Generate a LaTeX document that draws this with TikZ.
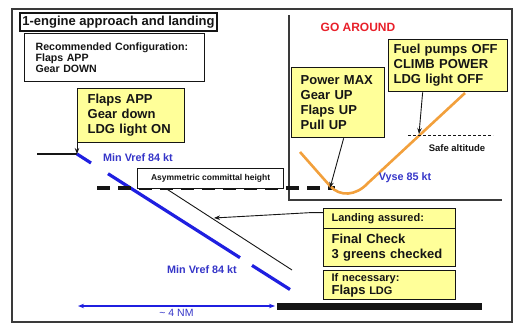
\documentclass[tikz,border=0pt]{standalone}
\usepackage{fontspec}
\setmainfont{Liberation Sans}
\usetikzlibrary{arrows.meta,calc}
\definecolor{ACFrame}{HTML}{3A3A3A}
\definecolor{ACNote}{HTML}{FFFF99}
\definecolor{ACBlue}{HTML}{1F1FE0}
\definecolor{ACBlueText}{HTML}{3535C8}
\definecolor{ACOrange}{HTML}{F2A03C}
\definecolor{ACRed}{HTML}{E8202A}
\definecolor{ACInk}{HTML}{151515}
\tikzset{
  pointer/.style={-{Stealth[length=6pt,width=4.5pt]},ACInk,line width=0.9pt},
  spanarrow/.style={{Stealth[length=6pt,width=4.5pt]}-{Stealth[length=6pt,width=4.5pt]},ACBlue,line width=1.2pt},
  glide/.style={ACBlue,line width=3.2pt},
  climbpath/.style={ACOrange,line width=2.6pt,line join=round},
  guide/.style={ACInk,line width=0.9pt},
  frameline/.style={ACFrame,line width=1.4pt},
  committal/.style={ACInk,line width=3.5pt,dash pattern=on 13pt off 8pt},
  safeline/.style={ACInk,line width=0.8pt,dash pattern=on 3pt off 2pt},
  runway/.style={ACInk,line width=7pt},
  memo/.style={draw=ACInk,line width=1.3pt,fill=ACNote,text=ACInk,align=left,
               anchor=north west,inner ysep=2pt,
               font=\fontsize{13}{15}\selectfont\bfseries},
  memosmall/.style={memo,font=\fontsize{11}{13}\selectfont\bfseries},
  plainbox/.style={draw=ACInk,line width=1.2pt,fill=white,text=ACInk},
  speed/.style={text=ACBlueText,font=\fontsize{10.8}{13}\selectfont\bfseries},
}

\begin{document}
\begin{tikzpicture}[x=1pt,y=-1pt]
    \useasboundingbox (0,0) rectangle (519,324);
    \draw[frameline] (12,9) rectangle (512,322);

    \node[plainbox,line width=1.4pt,inner sep=1pt,minimum width=197,minimum height=18,
          font=\fontsize{13}{15}\selectfont\bfseries] (title) at (118.5,22)
      {1-engine approach and landing};
    \node[plainbox,anchor=north west,align=left,text width=158,inner xsep=11pt,
          minimum height=48,font=\fontsize{10.6}{11.2}\selectfont\bfseries] (config) at (24,33)
      {Recommended Configuration:\\Flaps APP\\Gear DOWN};

    % go around panel
    \draw[frameline] (289,15) -- (289,200) -- (502,200);
    \node[text=ACRed,font=\fontsize{12}{14}\selectfont\bfseries] (goaround) at (358,27) {GO AROUND};

    \coordinate (glide0) at (37,154);
    \coordinate (glide1) at (77,154);
    \coordinate (glide2) at (91,163);
    \coordinate (glide3) at (108,173.7);
    \coordinate (glide4) at (240,257.7);
    \coordinate (glide5) at (252,265.4);
    \coordinate (glide6) at (290,289.5);
    \draw[guide,line width=1.4pt] (glide0) -- (glide1);
    \draw[glide] (glide1) -- (glide2);
    \draw[glide] (glide3) -- (glide4);
    \draw[glide] (glide5) -- (glide6);
    \node[speed] (vref1) at (138,158) {Min Vref 84 kt};
    \node[speed] (vref2) at (202,270) {Min Vref 84 kt};

    \coordinate (commit0) at (97,188);
    \coordinate (commit1) at (335,188);
    \draw[committal] (commit0) -- (commit1);
    \node[plainbox,anchor=north west,minimum width=146,minimum height=20,inner sep=1pt,
          font=\fontsize{8.5}{10}\selectfont\bfseries] (asym) at (137,168)
      {Asymmetric committal height};
    \coordinate (landing1) at (292,270);
    \draw[guide] ([xshift=30pt]asym.south west) -- (landing1);

    \coordinate (gatip) at (330,188);
    \draw[climbpath] (300,152) -- (330,186) .. controls (340,197) and (356,196) .. (368,183) -- (465,93);
    \coordinate (safe0) at (408,135);
    \coordinate (safe1) at (493,135);
    \draw[safeline] (safe0) -- (safe1);
    \node[text=ACInk,font=\fontsize{9.5}{11}\selectfont\bfseries] (safealt) at (457,148) {Safe altitude};
    \node[speed] (vyse) at (405,178) {Vyse 85 kt};

    \node[memo,text width=87,inner xsep=10pt,minimum height=54] (flapsapp) at (77,88)
      {Flaps APP\\Gear down\\LDG light ON};
    \node[memo,text width=75,inner xsep=9pt,minimum height=70] (gaaction) at (291,67)
      {Power MAX\\Gear UP\\Flaps UP\\Pull UP};
    \node[memo,text width=109,inner xsep=5pt,minimum height=52] (climb) at (388,39)
      {Fuel pumps OFF\\CLIMB POWER\\LDG light OFF};
    \node[memosmall,text width=116,inner xsep=8pt,minimum height=20] (assured) at (323,208)
      {Landing assured:};
    \node[memo,text width=116,inner xsep=8pt,minimum height=38] (finalcheck) at (323,228)
      {Final Check\\3 greens checked};
    \node[memosmall,text width=116,inner xsep=8pt,minimum height=29] (ifnec) at (323,270)
      {If necessary:\\{\fontsize{13}{15}\selectfont Flaps} LDG};

    \coordinate (fueltip) at (419,134);
    \coordinate (landtip) at (214,218);
    \draw[pointer] (flapsapp.south west) -- (glide1);
    \draw[pointer] ([xshift=5.5pt]gaaction.south) -- (gatip);
    \draw[pointer] ([xshift=-25.5pt]climb.south) -- (fueltip);
    \draw[pointer] ([yshift=6pt]assured.west) -- ++(-13,0) -- (landtip);

    \coordinate (rwy0) at (277,306);
    \coordinate (rwy1) at (482,306);
    \draw[runway] (rwy0) -- (rwy1);
    \coordinate (nm0) at (78,306);
    \draw[spanarrow] (nm0) -- ([xshift=-2pt]rwy0) node[midway,below=-1pt,text=ACBlueText,
          font=\fontsize{10.5}{12}\selectfont] (nm) {\textasciitilde{} 4 NM};
\end{tikzpicture}
\end{document}
